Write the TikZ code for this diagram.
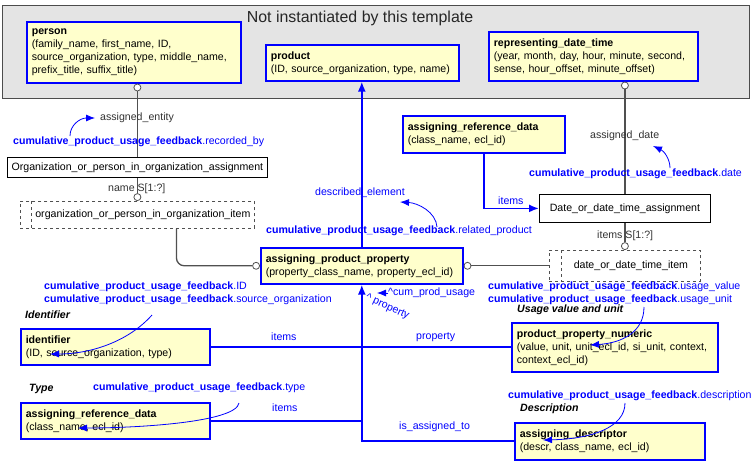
\documentclass[tikz,border=0pt]{standalone}
\usepackage{fontspec}
\setmainfont{Liberation Sans}
\usetikzlibrary{arrows.meta}
\definecolor{boxfill}{RGB}{255,255,204}
\definecolor{regfill}{RGB}{228,228,228}
\definecolor{lnk}{RGB}{80,80,80}
\definecolor{bl}{RGB}{0,0,255}
\begin{document}
\begin{tikzpicture}[x=1pt,y=-1pt,
  font=\fontsize{10.6}{13}\selectfont,
  ebox/.style={draw=bl, line width=1.6pt, fill=boxfill, anchor=north west, align=left, inner xsep=5pt, inner ysep=0pt},
  pbox/.style={draw=black, line width=0.8pt, fill=white, anchor=north west, inner sep=0pt},
  dbox/.style={draw=lnk, line width=0.8pt, dashed, fill=white, anchor=north west, inner sep=0pt},
  circ/.style={circle, draw=lnk, fill=white, line width=0.8pt, inner sep=0pt, minimum size=7pt},
  lk/.style={draw=lnk, line width=1.3pt},
  bk/.style={draw=bl, line width=1.8pt},
  bkarrow/.style={bk, -{Latex[length=10pt,width=8pt]}},
  cv/.style={draw=bl, line width=0.8pt, -{Latex[length=9pt,width=7pt]}},
  lbl/.style={anchor=west, inner sep=0pt, text=black!80},
  blbl/.style={anchor=west, inner sep=0pt, text=bl},
  ilbl/.style={anchor=west, inner sep=0pt, font=\fontsize{10.6}{13}\selectfont\bfseries\itshape}
]
\useasboundingbox (0,0) rectangle (754,460);
\fill[white] (0,0) rectangle (754,460);

% region
\node[draw=black!70, line width=1pt, fill=regfill, anchor=north west, minimum width=747pt, minimum height=93pt, inner sep=0pt] (region) at (2,5) {};
\node[inner sep=0pt, font=\fontsize{15.9}{18}\selectfont, text=black!85] (title) at (360,18) {Not instantiated by this template};

% entity boxes
\node[ebox, text width=204pt, minimum height=61pt] (person) at (26,21)
  {\textbf{person}\\(family\_name, first\_name, ID,\\source\_organization, type, middle\_name,\\prefix\_title, suffix\_title)};
\node[ebox, text width=183pt, minimum height=36pt] (product) at (265,44)
  {\textbf{product}\\(ID, source\_organization, type, name)};
\node[ebox, text width=199pt, minimum height=49pt] (rdt) at (488,31)
  {\textbf{representing\_date\_time}\\(year, month, day, hour, minute, second,\\sense, hour\_offset, minute\_offset)};
\node[ebox, text width=152pt, minimum height=37pt] (ard1) at (402,115)
  {\textbf{assigning\_reference\_data}\\(class\_name, ecl\_id)};
\node[ebox, text width=192pt, minimum height=36pt] (app) at (260,247)
  {\textbf{assigning\_product\_property}\\(property\_class\_name, property\_ecl\_id)};
\node[ebox, text width=179pt, minimum height=36pt] (identifier) at (20,328)
  {\textbf{identifier}\\(ID, source\_organization, type)};
\node[ebox, text width=179pt, minimum height=36pt] (ard2) at (20,402)
  {\textbf{assigning\_reference\_data}\\(class\_name, ecl\_id)};
\node[ebox, text width=196pt, minimum height=49pt] (ppn) at (511,322)
  {\textbf{product\_property\_numeric}\\(value, unit, unit\_ecl\_id, si\_unit, context,\\context\_ecl\_id)};
\node[ebox, text width=180pt, minimum height=37pt] (ad) at (514,422)
  {\textbf{assigning\_descriptor}\\(descr, class\_name, ecl\_id)};

% plain / select boxes
\node[pbox, minimum width=260pt, minimum height=20pt] (org) at (7,157)
  {Organization\_or\_person\_in\_organization\_assignment};
\node[pbox, minimum width=171pt, minimum height=28pt] (dda) at (539,194)
  {Date\_or\_date\_time\_assignment};
\node[dbox, minimum width=234pt, minimum height=27pt] (orgitem) at (20,201)
  {\hspace*{11pt}organization\_or\_person\_in\_organization\_item};
\draw[draw=lnk, line width=0.8pt, dashed] ([xshift=11pt]orgitem.north west) -- ([xshift=11pt]orgitem.south west);
\node[dbox, minimum width=151pt, minimum height=31pt] (ddi) at (549,250)
  {\hspace*{12pt}date\_or\_date\_time\_item};
\draw[draw=lnk, line width=0.8pt, dashed] ([xshift=12pt]ddi.north west) -- ([xshift=12pt]ddi.south west);

% gray connectors
\node[circ, anchor=north] (c1) at (person.south -| org.north) {};
\draw[lk] (c1.south) -- (org.north);
\node[circ, anchor=south] (c2) at (orgitem.north -| org.south) {};
\draw[lk] (org.south) -- (c2.north);
\node[circ, anchor=east] (c3) at (app.west) {};
\draw[lk, rounded corners=8pt] ([xshift=39pt]orgitem.south) |- (c3.west);
\node[circ, anchor=west] (c4) at (app.east) {};
\draw[lk] (c4.east) -- (ddi.west |- c4.east);
\node[circ, anchor=north] (c5) at (rdt.south -| dda.north) {};
\draw[lk] (c5.south) -- (dda.north);
\node[circ, anchor=south] (c6) at (ddi.north -| dda.south) {};
\draw[lk] (dda.south) -- (c6.north);

% blue connectors
\draw[bkarrow] (app.north) -- (app.north |- product.south);
\draw[bkarrow] (ard1.south) |- (dda.west);
\coordinate (busB) at (app.south |- ad.west);
\draw[bkarrow] (ad.west) -- (busB) -- (app.south);
\draw[bk] (identifier.east) -- (identifier.east -| busB);
\draw[bk] (ppn.west) -- (ppn.west -| busB);
\draw[bk] (ard2.east) -- (ard2.east -| busB);

% role labels
\node[lbl] (lAE) at (100,118) {assigned\_entity};
\node[lbl] (lName) at (108,189) {name S[1:?]};
\node[lbl] (lAD) at (590,136) {assigned\_date};
\node[lbl] (lItemsS) at (597,236) {items S[1:?]};
\node[blbl] (lDE) at (315,193) {described\_element};
\node[blbl] (lItems1) at (498,201) {items};
\node[blbl] (lItems2) at (271,337) {items};
\node[blbl] (lProp) at (416,337) {property};
\node[blbl] (lItems3) at (272,408) {items};
\node[blbl] (lIAT) at (399,427) {is\_assigned\_to};
\node[blbl] (lCPU) at (388,293) {\textasciicircum cum\_prod\_usage};
\draw[bl, line width=0.8pt, -{Latex[length=9pt,width=7pt]}] (lCPU.west) -- ++(-11,0);
\node[blbl, rotate=-25, anchor=west] (lPR) at (366,297) {\textasciicircum\ property};

% template parameter labels
\node[blbl] (tRB) at (13,142) {\textbf{cumulative\_product\_usage\_feedback}.recorded\_by};
\node[blbl] (tRP) at (266,231) {\textbf{cumulative\_product\_usage\_feedback}.related\_product};
\node[blbl] (tDate) at (529,174) {\textbf{cumulative\_product\_usage\_feedback}.date};
\node[blbl] (tUV) at (488,287) {\textbf{cumulative\_product\_usage\_feedback}.usage\_value};
\node[blbl] (tUU) at (488,300) {\textbf{cumulative\_product\_usage\_feedback}.usage\_unit};
\node[ilbl] (iUsage) at (517,310) {Usage value and unit};
\node[blbl] (tID) at (44,287) {\textbf{cumulative\_product\_usage\_feedback}.ID};
\node[blbl] (tSO) at (44,300) {\textbf{cumulative\_product\_usage\_feedback}.source\_organization};
\node[ilbl] (iIdent) at (25,315) {Identifier};
\node[ilbl] (iType) at (29,389) {Type};
\node[blbl] (tType) at (93,388) {\textbf{cumulative\_product\_usage\_feedback}.type};
\node[blbl] (tDesc) at (508,396) {\textbf{cumulative\_product\_usage\_feedback}.description};
\node[ilbl] (iDesc) at (520,409) {Description};

% curved pointer arrows
\coordinate (rbS) at (70,136); \coordinate (rbE) at (95,118);
\draw[cv] (rbS) .. controls (70,125) and (80,118) .. (rbE);
\coordinate (rpS) at (437,227); \coordinate (rpE) at (400,202);
\draw[cv] (rpS) .. controls (436,212) and (418,203) .. (rpE);
\coordinate (dtS) at (670,168); \coordinate (dtE) at (653,146);
\draw[cv] (dtS) .. controls (670,159) and (664,151) .. (dtE);
\coordinate (idS) at (152,315); \coordinate (idE) at (50,354);
\draw[cv] (idS) .. controls (128,342) and (90,354) .. (idE);
\coordinate (tyS) at (239,403); \coordinate (tyE) at (78,428);
\draw[cv] (tyS) .. controls (236,422) and (140,428) .. (tyE);
\coordinate (uvS) at (644,307); \coordinate (uvE) at (590,345);
\draw[cv] (uvS) .. controls (644,332) and (622,343) .. (uvE);
\coordinate (dsS) at (625,403); \coordinate (dsE) at (543,440);
\draw[cv] (dsS) .. controls (625,428) and (590,439) .. (dsE);
\end{tikzpicture}
\end{document}
